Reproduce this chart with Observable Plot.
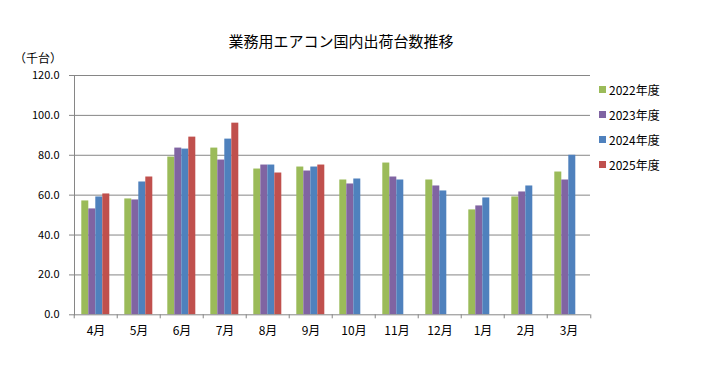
<!DOCTYPE html>
<html><head><meta charset="utf-8">
<script src="https://cdn.jsdelivr.net/npm/d3@7"></script>
<script src="https://cdn.jsdelivr.net/npm/@observablehq/plot@0.6"></script>
<style>
body{margin:0;background:#fff;}
#c{position:relative;width:709px;height:378px;font-family:"Noto Sans CJK JP",sans-serif;color:#000;}
#c svg{position:absolute;left:0;top:0;}
#title{position:absolute;left:341px;top:33px;transform:translateX(-50%);font-size:15px;line-height:15px;white-space:nowrap;}
#unit{position:absolute;left:14px;top:51px;font-size:12px;line-height:14px;white-space:nowrap;}
#legend{position:absolute;left:599px;top:80px;font-size:12px;}
.li{position:absolute;left:0;height:18px;display:flex;align-items:center;white-space:nowrap;}
.sw{width:7px;height:7px;margin-right:3px;}
</style>
</head><body>
<div id="c"><div id="title">業務用エアコン国内出荷台数推移</div><div id="unit">（千台）</div><div id="legend"></div></div>
<script>
const months = ["4月","5月","6月","7月","8月","9月","10月","11月","12月","1月","2月","3月"];
const seriesNames = ["2022年度","2023年度","2024年度","2025年度"];
const colors = ["#9BBB59","#8064A2","#4F81BD","#C0504D"];
const fy2022 = [57.1,58.1,79.1,83.6,73.1,74.1,67.6,76.1,67.6,52.6,59.1,71.6];
const fy2023 = [53.1,57.6,83.6,77.6,75.1,72.1,65.6,69.1,64.6,54.6,61.6,67.6];
const fy2024 = [59.1,66.6,83.1,88.1,75.1,74.1,68.1,67.6,62.1,58.6,64.6,80.0];
const fy2025 = [60.6,69.1,89.1,96.1,71.1,75.1];
const yTicks = [0,20,40,60,80,100,120];

const seriesValues = [fy2022, fy2023, fy2024, fy2025];
const data = [];
seriesNames.forEach((s, i) => {
  seriesValues[i].forEach((v, j) => data.push({month: months[j], series: s, value: v}));
});

const W = 709, H = 378, mL = 70.7, mR = 115.7, mT = 75, mB = 63.7;
const step = (W - mL - mR) / months.length;
const gray = "#868686";

const plot = Plot.plot({
  width: W, height: H,
  marginLeft: mL, marginRight: mR, marginTop: mT, marginBottom: mB,
  style: {fontFamily: '"Noto Sans CJK JP", sans-serif', fontSize: "11px", color: "#000", background: "transparent"},
  fx: {domain: months, padding: 0, axis: null},
  x: {domain: seriesNames, axis: null, paddingInner: 0, paddingOuter: 0.75},
  y: {domain: [0, 120], axis: null},
  color: {domain: seriesNames, range: colors},
  marks: [
    Plot.gridY(yTicks.filter(t => t > 0), {stroke: gray, strokeOpacity: 1}),
    Plot.barY(data, {fx: "month", x: "series", y: "value", fill: "series"}),
    Plot.ruleY([0], {stroke: gray}),
    Plot.frame({anchor: "left", facetAnchor: "left", stroke: gray}),
    Plot.axisY({ticks: yTicks, tickFormat: d => d.toFixed(1), tickSize: 5, tickPadding: 10, stroke: gray, fill: "#000", label: null, fontSize: 11}),
    Plot.axisFx({anchor: "bottom", tickSize: 0, tickPadding: 12, fontSize: 12, label: null, fill: "#000"}),
    Plot.axisFx({anchor: "bottom", tickSize: 4, tickFormat: () => "", dx: -step / 2, stroke: gray, label: null}),
    Plot.axisFx({anchor: "bottom", ticks: [months[months.length - 1]], tickSize: 4, tickFormat: () => "", dx: step / 2, stroke: gray, label: null})
  ]
});
document.getElementById("c").appendChild(plot);

const lg = document.getElementById("legend");
seriesNames.forEach((s, i) => {
  const d = document.createElement("div");
  d.className = "li";
  d.style.top = (i * 25.3) + "px";
  d.innerHTML = `<span class="sw" style="background:${colors[i]}"></span><span>${s}</span>`;
  lg.appendChild(d);
});
</script>
</body></html>
